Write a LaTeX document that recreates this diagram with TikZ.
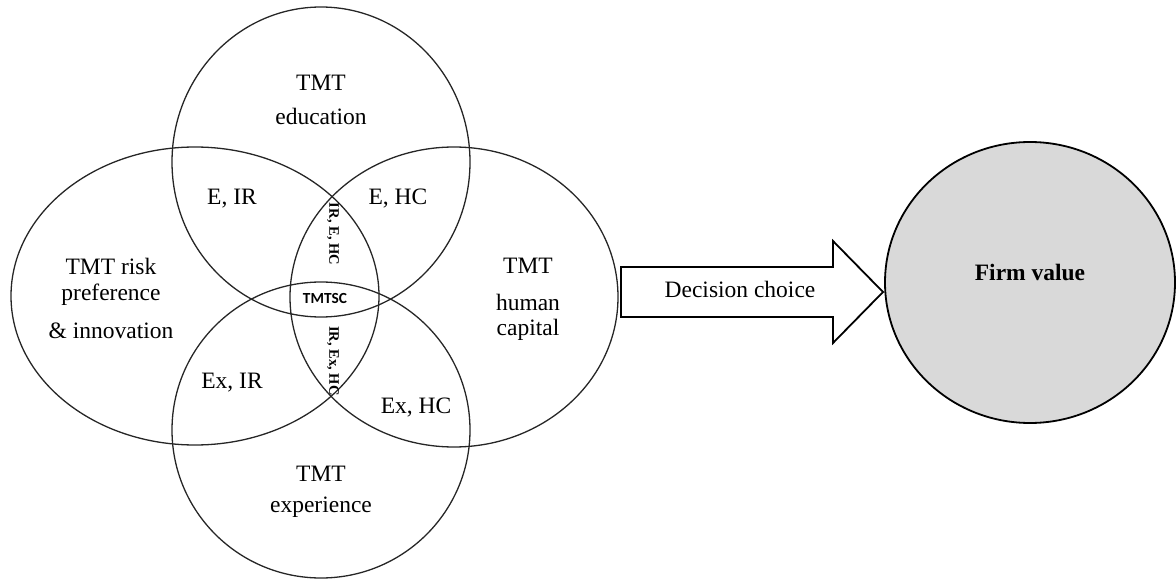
\documentclass[tikz,border=0pt]{standalone}
\usepackage{fontspec}
\usetikzlibrary{shapes.geometric,calc}
\setmainfont{Liberation Serif}
\newfontfamily\labsans{Carlito}
\begin{document}
\begin{tikzpicture}[x=1pt,y=-1pt,
  venn/.style={draw=black!85, line width=1.3pt},
  lbl/.style={font=\fontsize{23.5}{28}\selectfont, inner sep=0pt, anchor=base},
  tiny/.style={font=\fontsize{14.5}{16}\selectfont\bfseries, inner sep=0pt, rotate=-90},
  core/.style={font=\labsans\fontsize{15.4}{17}\selectfont\bfseries, inner sep=0pt, anchor=base},
  blockarrow/.style={draw=black, line width=1.8pt, fill=white, line join=miter},
  outcome/.style={draw=black, line width=1.8pt, fill=outgray},
]
\definecolor{outgray}{HTML}{D9D9D9}
\useasboundingbox (0,0) rectangle (1176,580);

% four overlapping sets
\draw[venn] (321,162) ellipse [x radius=149, y radius=155];
\draw[venn] (321,430) ellipse [x radius=149, y radius=148];
\draw[venn] (195,296) ellipse [x radius=184, y radius=149];
\draw[venn] (454,297) ellipse [x radius=164, y radius=150];

% set labels
\node[lbl] (edu1) at (321,91)  {TMT};
\node[lbl] (edu2) at (321,125) {education};
\node[lbl] (risk1) at (111,275) {TMT risk};
\node[lbl] (risk2) at (111,301) {preference};
\node[lbl] (risk3) at (111,338) {\& innovation};
\node[lbl] (hum1) at (528,273) {TMT};
\node[lbl] (hum2) at (528,311) {human};
\node[lbl] (hum3) at (528,335) {capital};
\node[lbl] (exp1) at (321,481) {TMT};
\node[lbl] (exp2) at (321,512) {experience};

% pairwise overlaps
\node[lbl] (eir) at (232,205) {E, IR};
\node[lbl] (ehc) at (398,205) {E, HC};
\node[lbl] (exir) at (232,388) {Ex, IR};
\node[lbl] (exhc) at (416,413) {Ex, HC};

% triple overlaps and core
\node[tiny] (irehc) at (333,234) {IR, E, HC};
\node[tiny] (irexhc) at (333,361) {IR, Ex, HC};
\node[core] (tmtsc) at (325,303) {TMTSC};

% outcome
\node[outcome, ellipse, minimum width=290, minimum height=281, inner sep=0pt]
  (fv) at (1030,282.5) {};
\node[font=\fontsize{23.5}{28}\selectfont\bfseries, inner sep=0pt, anchor=base]
  (fvt) at (1030,280) {Firm value};

% decision arrow
\coordinate (tail) at (621,292);
\coordinate (tip) at (883,292);
\draw[blockarrow] ($(tail)+(0,-25)$) -- ($(tip)+(-50,-25)$) -- ($(tip)+(-50,-51)$)
  -- (tip) -- ($(tip)+(-50,51)$) -- ($(tip)+(-50,25)$) -- ($(tail)+(0,25)$) -- cycle;
\node[lbl] (dc) at (740,298) {Decision choice};
\end{tikzpicture}
\end{document}
